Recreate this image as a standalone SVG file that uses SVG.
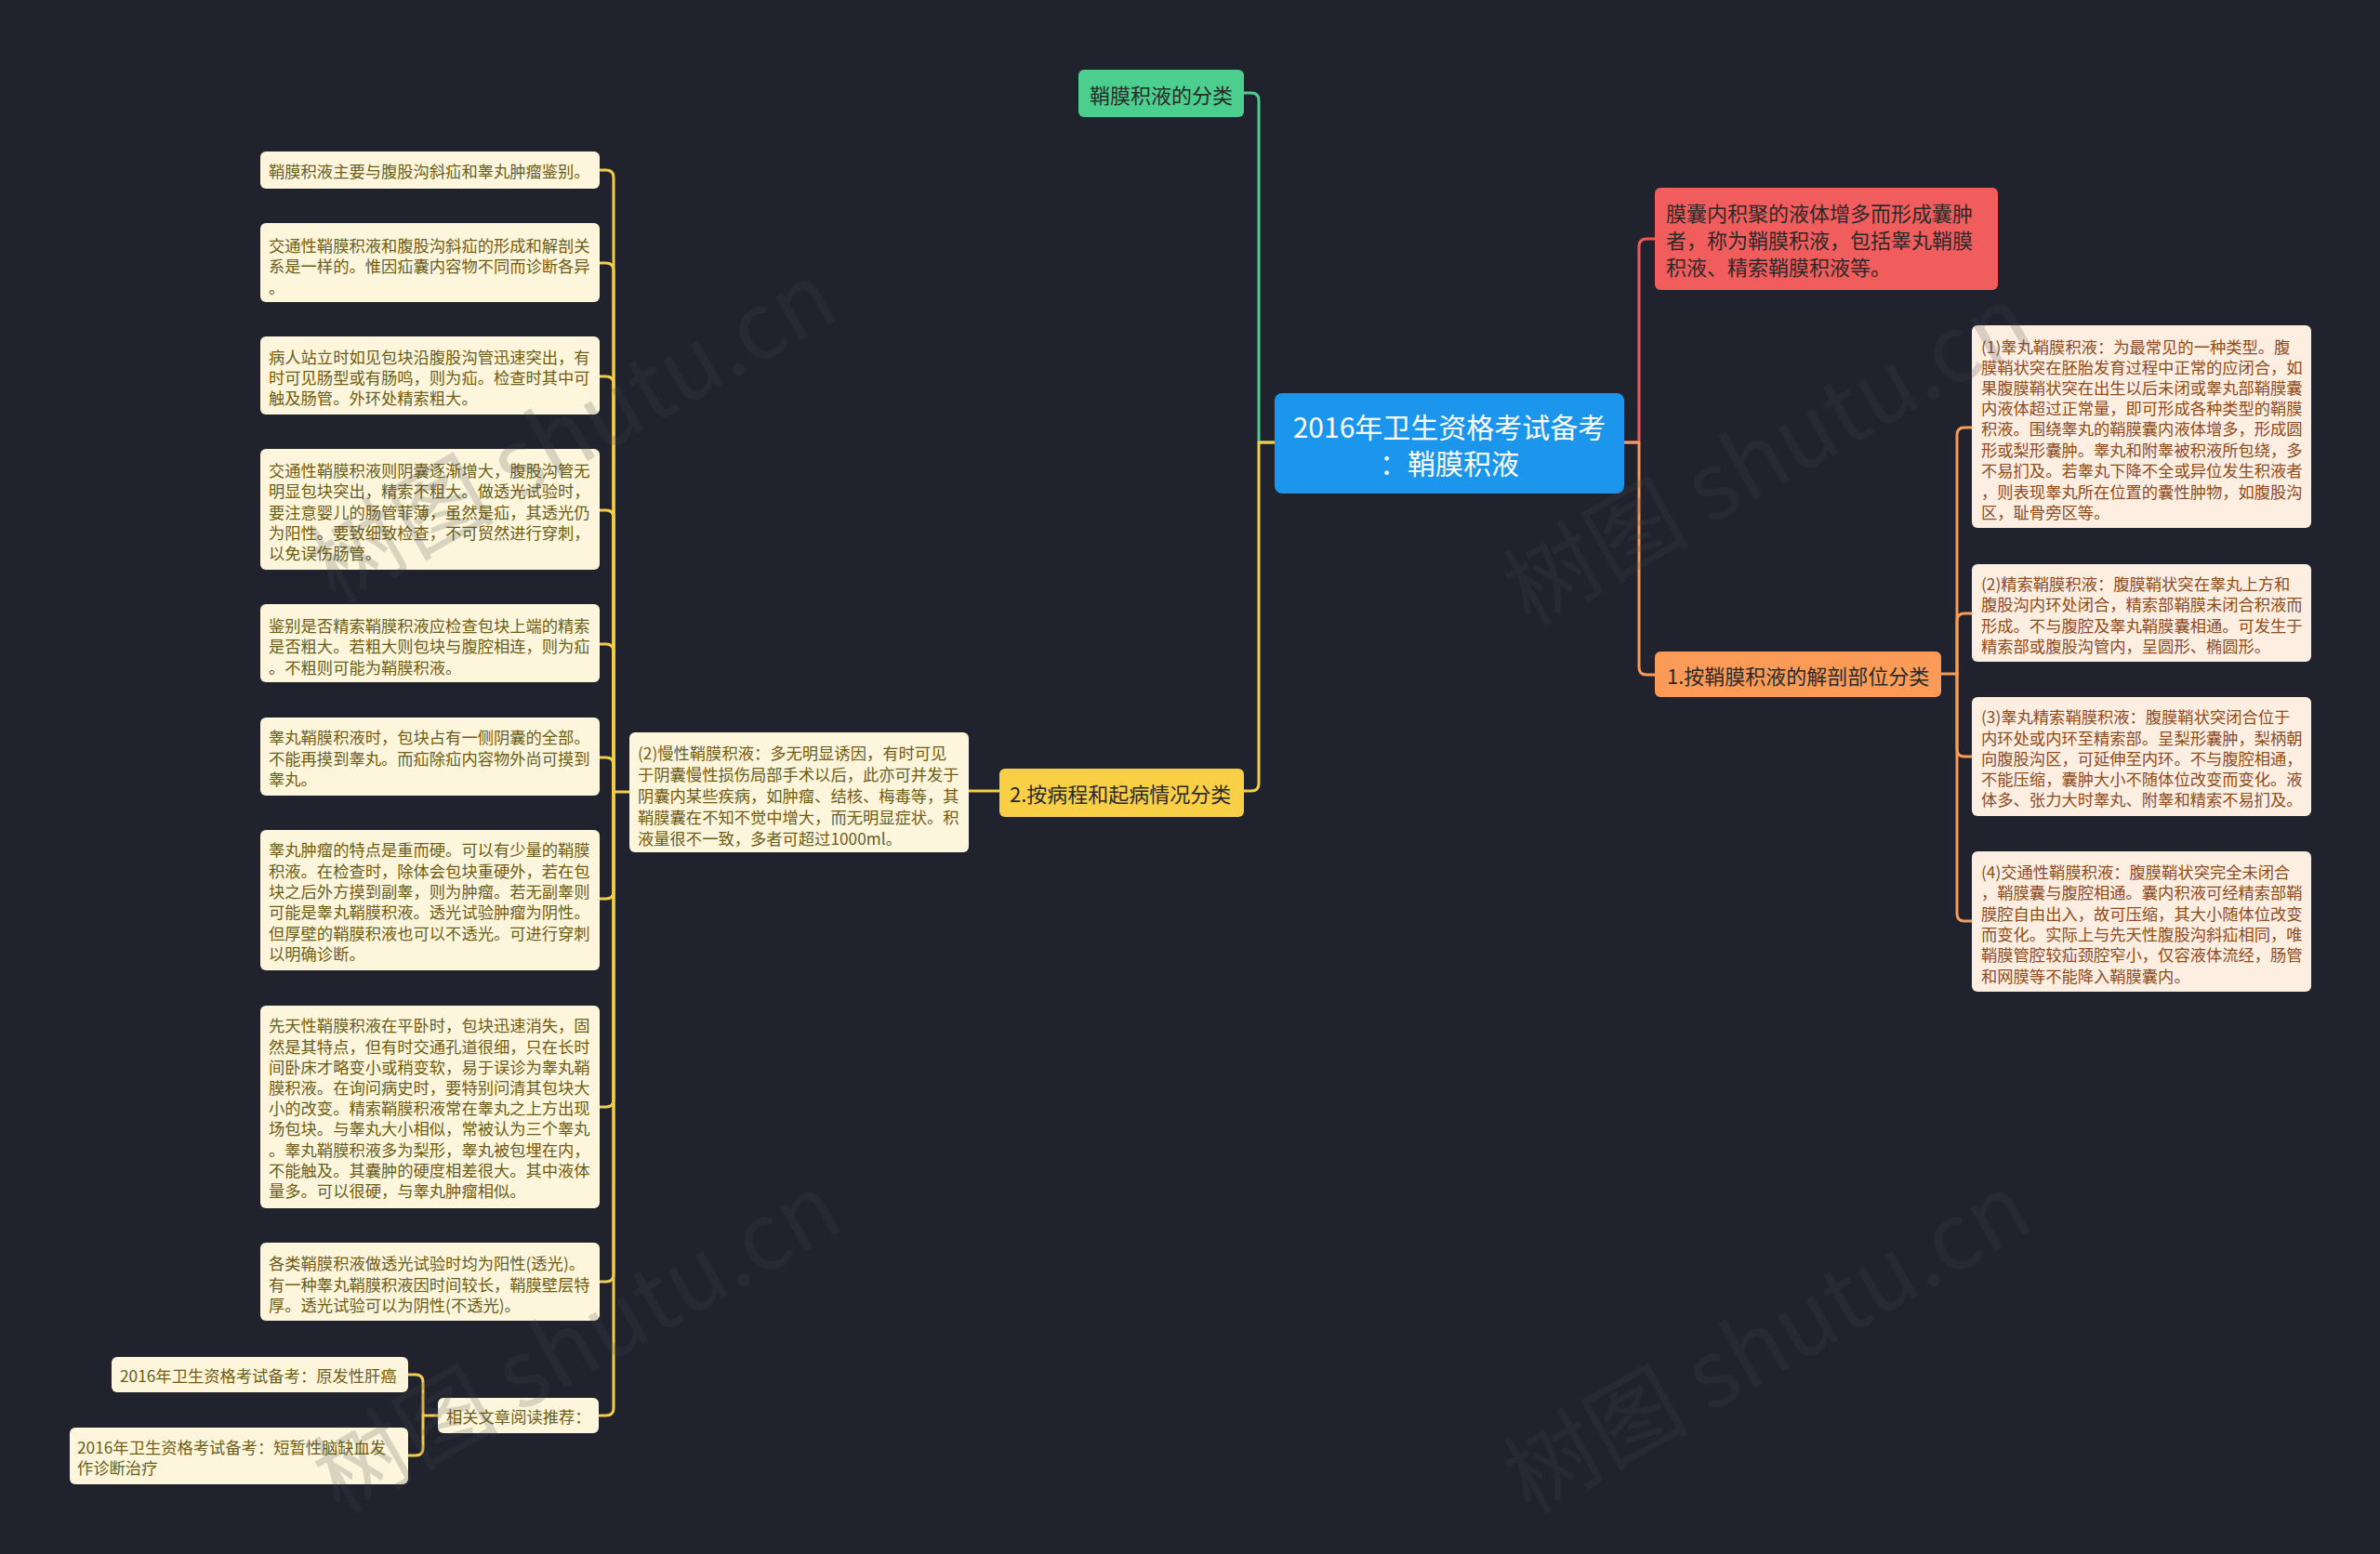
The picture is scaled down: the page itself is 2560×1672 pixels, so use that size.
<svg xmlns="http://www.w3.org/2000/svg" width="2560" height="1672" viewBox="0 0 2560 1672">
<style>
text{font-family:"Noto Sans CJK SC","Noto Sans",sans-serif;dominant-baseline:central}
.conn path{fill:none;stroke-width:3;stroke-linecap:round;stroke-linejoin:round}
.cg{stroke:#4ccf8e}
.cy{stroke:#f2cd4a}
.cr{stroke:#ee5a5a}
.co{stroke:#f89a58}
.leafL rect{fill:#fdf6dc}
.leafL text{fill:#6e5d16;font-size:17.3px}
.leafR rect{fill:#fdeee2}
.leafR text{fill:#8f4c1c;font-size:17.3px}
.l2 text{font-size:22px;fill:#2a2a2a}
.wm{font-family:"Noto Sans CJK SC","Noto Sans",sans-serif;font-size:100px;fill:#4a4a4a;opacity:0.2;dominant-baseline:auto}
</style>
<rect width="2560" height="1672" fill="#20232e"/>

<g class="conn">
  <path class="cg" d="M1338 100 H1346 Q1354 100 1354 108 V476 H1371"/>
  <path class="cy" d="M1338 851 H1346 Q1354 851 1354 843 V476 H1371"/>
  <path class="cr" d="M1780 257 H1771 Q1763 257 1763 265 V476 H1747"/>
  <path class="co" d="M1780 726 H1771 Q1763 726 1763 718 V476 H1747"/>
  <path class="cy" d="M1075 851 H1042"/>
  <path class="cy" d="M677 852 H660"/>
  <path class="cy" d="M645 183 H652 Q660 183 660 191 V852"/>
  <path class="cy" d="M645 283 H652 Q660 283 660 291 V852"/>
  <path class="cy" d="M645 405 H652 Q660 405 660 413 V852"/>
  <path class="cy" d="M645 549 H652 Q660 549 660 557 V852"/>
  <path class="cy" d="M645 693 H652 Q660 693 660 701 V852"/>
  <path class="cy" d="M645 815 H652 Q660 815 660 823 V852"/>
  <path class="cy" d="M645 967 H652 Q660 967 660 959 V852"/>
  <path class="cy" d="M645 1191 H652 Q660 1191 660 1183 V852"/>
  <path class="cy" d="M645 1379 H652 Q660 1379 660 1371 V852"/>
  <path class="cy" d="M645 1523 H652 Q660 1523 660 1515 V852"/>
  <path class="cy" d="M439 1479 H447 Q455 1479 455 1487 V1523 H471"/>
  <path class="cy" d="M439 1566 H447 Q455 1566 455 1558 V1523"/>
  <path class="co" d="M2088 725 H2105"/>
  <path class="co" d="M2121 460 H2113 Q2105 460 2105 468 V725"/>
  <path class="co" d="M2121 660 H2113 Q2105 660 2105 668 V725"/>
  <path class="co" d="M2121 814 H2113 Q2105 814 2105 806 V725"/>
  <path class="co" d="M2121 991 H2113 Q2105 991 2105 983 V725"/>
</g>

<g id="root">
  <rect x="1371" y="423" width="376" height="108" rx="8" fill="#1b96ec"/>
  <text x="1559" y="458" font-size="30" fill="#ffffff" text-anchor="middle">2016年卫生资格考试备考</text>
  <text x="1559" y="497" font-size="30" fill="#ffffff" text-anchor="middle">：鞘膜积液</text>
</g>

<g id="n-green" class="l2">
  <rect x="1160" y="75" width="178" height="51" rx="6" fill="#4ccf8e"/>
  <text x="1249" y="101" text-anchor="middle" fill="#1f3a2a">鞘膜积液的分类</text>
</g>

<g id="n-red" class="l2">
  <rect x="1780" y="202" width="369" height="110" rx="6" fill="#f15c5c"/>
  <text x="1792" y="228" fill="#3a1515">膜囊内积聚的液体增多而形成囊肿</text>
  <text x="1792" y="257" fill="#3a1515">者，称为鞘膜积液，包括睾丸鞘膜</text>
  <text x="1792" y="286" fill="#3a1515">积液、精索鞘膜积液等。</text>
</g>

<g id="n-orange" class="l2">
  <rect x="1780" y="701" width="308" height="49" rx="6" fill="#fb9b57"/>
  <text x="1793" y="726" fill="#3a2010">1.按鞘膜积液的解剖部位分类</text>
</g>

<g id="n-yellow" class="l2">
  <rect x="1075" y="827" width="263" height="52" rx="6" fill="#f9cf46"/>
  <text x="1086" y="853" fill="#2a2300">2.按病程和起病情况分类</text>
</g>

<g id="r1" class="leafR">
  <rect x="2121" y="350" width="365" height="218" rx="6"/>
  <text x="2131" y="372">(1)睾丸鞘膜积液：为最常见的一种类型。腹</text>
  <text x="2131" y="394">膜鞘状突在胚胎发育过程中正常的应闭合，如</text>
  <text x="2131" y="416">果腹膜鞘状突在出生以后未闭或睾丸部鞘膜囊</text>
  <text x="2131" y="438">内液体超过正常量，即可形成各种类型的鞘膜</text>
  <text x="2131" y="460">积液。围绕睾丸的鞘膜囊内液体增多，形成圆</text>
  <text x="2131" y="483">形或梨形囊肿。睾丸和附睾被积液所包绕，多</text>
  <text x="2131" y="505">不易扪及。若睾丸下降不全或异位发生积液者</text>
  <text x="2131" y="528">，则表现睾丸所在位置的囊性肿物，如腹股沟</text>
  <text x="2131" y="550">区，耻骨旁区等。</text>
</g>

<g id="r2" class="leafR">
  <rect x="2121" y="607" width="365" height="105" rx="6"/>
  <text x="2131" y="627">(2)精索鞘膜积液：腹膜鞘状突在睾丸上方和</text>
  <text x="2131" y="649">腹股沟内环处闭合，精索部鞘膜未闭合积液而</text>
  <text x="2131" y="672">形成。不与腹腔及睾丸鞘膜囊相通。可发生于</text>
  <text x="2131" y="694">精索部或腹股沟管内，呈圆形、椭圆形。</text>
</g>

<g id="r3" class="leafR">
  <rect x="2121" y="750" width="365" height="128" rx="6"/>
  <text x="2131" y="770">(3)睾丸精索鞘膜积液：腹膜鞘状突闭合位于</text>
  <text x="2131" y="793">内环处或内环至精索部。呈梨形囊肿，梨柄朝</text>
  <text x="2131" y="815">向腹股沟区，可延伸至内环。不与腹腔相通，</text>
  <text x="2131" y="837">不能压缩，囊肿大小不随体位改变而变化。液</text>
  <text x="2131" y="859">体多、张力大时睾丸、附睾和精索不易扪及。</text>
</g>

<g id="r4" class="leafR">
  <rect x="2121" y="916" width="365" height="151" rx="6"/>
  <text x="2131" y="937">(4)交通性鞘膜积液：腹膜鞘状突完全未闭合</text>
  <text x="2131" y="959">，鞘膜囊与腹腔相通。囊内积液可经精索部鞘</text>
  <text x="2131" y="982">膜腔自由出入，故可压缩，其大小随体位改变</text>
  <text x="2131" y="1004">而变化。实际上与先天性腹股沟斜疝相同，唯</text>
  <text x="2131" y="1026">鞘膜管腔较疝颈腔窄小，仅容液体流经，肠管</text>
  <text x="2131" y="1049">和网膜等不能降入鞘膜囊内。</text>
</g>

<g id="chronic" class="leafL">
  <rect x="677" y="788" width="365" height="129" rx="6"/>
  <text x="686" y="809">(2)慢性鞘膜积液：多无明显诱因，有时可见</text>
  <text x="686" y="832">于阴囊慢性损伤局部手术以后，此亦可并发于</text>
  <text x="686" y="855">阴囊内某些疾病，如肿瘤、结核、梅毒等，其</text>
  <text x="686" y="878">鞘膜囊在不知不觉中增大，而无明显症状。积</text>
  <text x="686" y="901">液量很不一致，多者可超过1000ml。</text>
</g>

<g id="l1" class="leafL">
  <rect x="280" y="163" width="365" height="40" rx="6"/>
  <text x="289" y="183">鞘膜积液主要与腹股沟斜疝和睾丸肿瘤鉴别。</text>
</g>

<g id="l2" class="leafL">
  <rect x="280" y="240" width="365" height="85" rx="6"/>
  <text x="289" y="263">交通性鞘膜积液和腹股沟斜疝的形成和解剖关</text>
  <text x="289" y="285">系是一样的。惟因疝囊内容物不同而诊断各异</text>
  <text x="289" y="308">。</text>
</g>

<g id="l3" class="leafL">
  <rect x="280" y="362" width="365" height="84" rx="6"/>
  <text x="289" y="383">病人站立时如见包块沿腹股沟管迅速突出，有</text>
  <text x="289" y="405">时可见肠型或有肠鸣，则为疝。检查时其中可</text>
  <text x="289" y="427">触及肠管。外环处精索粗大。</text>
</g>

<g id="l4" class="leafL">
  <rect x="280" y="483" width="365" height="130" rx="6"/>
  <text x="289" y="505">交通性鞘膜积液则阴囊逐渐增大，腹股沟管无</text>
  <text x="289" y="527">明显包块突出，精索不粗大。做透光试验时，</text>
  <text x="289" y="550">要注意婴儿的肠管菲薄，虽然是疝，其透光仍</text>
  <text x="289" y="572">为阳性。要致细致检查，不可贸然进行穿刺，</text>
  <text x="289" y="594">以免误伤肠管。</text>
</g>

<g id="l5" class="leafL">
  <rect x="280" y="650" width="365" height="84" rx="6"/>
  <text x="289" y="672">鉴别是否精索鞘膜积液应检查包块上端的精索</text>
  <text x="289" y="694">是否粗大。若粗大则包块与腹腔相连，则为疝</text>
  <text x="289" y="717">。不粗则可能为鞘膜积液。</text>
</g>

<g id="l6" class="leafL">
  <rect x="280" y="772" width="365" height="84" rx="6"/>
  <text x="289" y="792">睾丸鞘膜积液时，包块占有一侧阴囊的全部。</text>
  <text x="289" y="815">不能再摸到睾丸。而疝除疝内容物外尚可摸到</text>
  <text x="289" y="837">睾丸。</text>
</g>

<g id="l7" class="leafL">
  <rect x="280" y="893" width="365" height="151" rx="6"/>
  <text x="289" y="913">睾丸肿瘤的特点是重而硬。可以有少量的鞘膜</text>
  <text x="289" y="936">积液。在检查时，除体会包块重硬外，若在包</text>
  <text x="289" y="958">块之后外方摸到副睾，则为肿瘤。若无副睾则</text>
  <text x="289" y="980">可能是睾丸鞘膜积液。透光试验肿瘤为阴性。</text>
  <text x="289" y="1003">但厚壁的鞘膜积液也可以不透光。可进行穿刺</text>
  <text x="289" y="1025">以明确诊断。</text>
</g>

<g id="l8" class="leafL">
  <rect x="280" y="1082" width="365" height="218" rx="6"/>
  <text x="289" y="1102">先天性鞘膜积液在平卧时，包块迅速消失，固</text>
  <text x="289" y="1125">然是其特点，但有时交通孔道很细，只在长时</text>
  <text x="289" y="1147">间卧床才略变小或稍变软，易于误诊为睾丸鞘</text>
  <text x="289" y="1169">膜积液。在询问病史时，要特别问清其包块大</text>
  <text x="289" y="1191">小的改变。精索鞘膜积液常在睾丸之上方出现</text>
  <text x="289" y="1213">场包块。与睾丸大小相似，常被认为三个睾丸</text>
  <text x="289" y="1236">。睾丸鞘膜积液多为梨形，睾丸被包埋在内，</text>
  <text x="289" y="1258">不能触及。其囊肿的硬度相差很大。其中液体</text>
  <text x="289" y="1280">量多。可以很硬，与睾丸肿瘤相似。</text>
</g>

<g id="l9" class="leafL">
  <rect x="280" y="1337" width="365" height="84" rx="6"/>
  <text x="289" y="1358">各类鞘膜积液做透光试验时均为阳性(透光)。</text>
  <text x="289" y="1381">有一种睾丸鞘膜积液因时间较长，鞘膜壁层特</text>
  <text x="289" y="1403">厚。透光试验可以为阴性(不透光)。</text>
</g>

<g id="l10" class="leafL">
  <rect x="471" y="1504" width="173" height="38" rx="6"/>
  <text x="480" y="1523">相关文章阅读推荐：</text>
</g>

<g id="l11" class="leafL">
  <rect x="120" y="1460" width="319" height="38" rx="6"/>
  <text x="129" y="1479">2016年卫生资格考试备考：原发性肝癌</text>
</g>

<g id="l12" class="leafL">
  <rect x="75" y="1536" width="364" height="61" rx="6"/>
  <text x="83" y="1556">2016年卫生资格考试备考：短暂性脑缺血发</text>
  <text x="83" y="1578">作诊断治疗</text>
</g>

<g id="watermarks">
  <text class="wm" x="360" y="650" transform="rotate(-29.5 360 650)">树图 shutu.cn</text>
  <text class="wm" x="1645" y="675" transform="rotate(-29.5 1645 675)">树图 shutu.cn</text>
  <text class="wm" x="365" y="1630" transform="rotate(-29.5 365 1630)">树图 shutu.cn</text>
  <text class="wm" x="1645" y="1630" transform="rotate(-29.5 1645 1630)">树图 shutu.cn</text>
</g>
</svg>
